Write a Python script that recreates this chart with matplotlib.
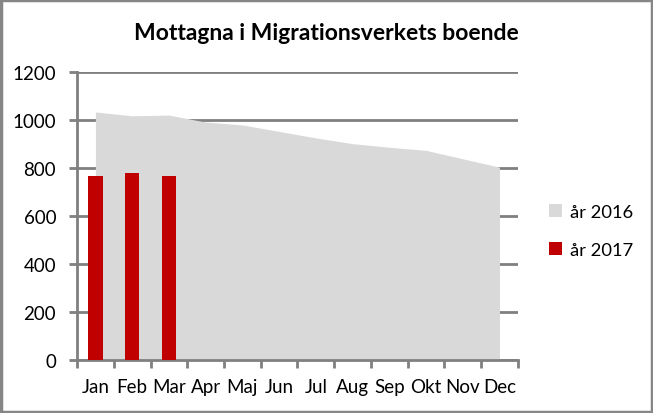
import matplotlib.pyplot as plt
from matplotlib.patches import Rectangle

plt.rcParams['font.family'] = ['Lato', 'DejaVu Sans']

months = ['Jan', 'Feb', 'Mar', 'Apr', 'Maj', 'Jun', 'Jul', 'Aug', 'Sep', 'Okt', 'Nov', 'Dec']
ar_2016 = [1033, 1017, 1020, 991, 979, 952, 925, 901, 886, 873, 838, 803]
ar_2017 = [768, 778, 768]

grid_c = '#808080'
fig = plt.figure(figsize=(6.53, 4.14), dpi=100)
ax = fig.add_axes([0.118, 0.128, 0.675, 0.696])

x = list(range(len(months)))
ax.fill_between(x, ar_2016, 0, color='#d9d9d9', lw=0, label='år 2016', zorder=2)
ax.bar(range(len(ar_2017)), ar_2017, width=0.39, color='#c00000', label='år 2017', zorder=3)

ax.set_xlim(-0.5, 11.5)
ax.set_ylim(0, 1200)
ax.set_yticks(range(0, 1201, 200))
ax.set_xticks(x)
ax.set_xticklabels(months)
ax.set_xticks([i - 0.5 for i in range(13)], minor=True)
ax.tick_params(axis='x', which='major', length=0, pad=13, labelsize=13.5)
ax.tick_params(axis='x', which='minor', length=6, width=2, color=grid_c, direction='out')
ax.tick_params(axis='y', length=6, width=2, color=grid_c, labelsize=13.5, pad=9)
ax.yaxis.grid(True, color=grid_c, lw=2, zorder=1)
ax.set_axisbelow(True)
for s in ['top', 'right']:
    ax.spines[s].set_visible(False)
for s in ['left', 'bottom']:
    ax.spines[s].set_color(grid_c)
    ax.spines[s].set_linewidth(2)

fig.text(0.5, 0.918, 'Mottagna i Migrationsverkets boende', ha='center', va='center',
         fontsize=16.5, fontweight='bold')

fig.legend(loc='center left', bbox_to_anchor=(0.815, 0.44), frameon=False, fontsize=13.2,
           handlelength=0.7, handleheight=0.7, handletextpad=0.45, labelspacing=1.2)

fig.patches.append(Rectangle((0.002, 0.003), 0.996, 0.994, transform=fig.transFigure,
                             fill=False, edgecolor='#868686', lw=2.5))

fig.savefig('out.png', dpi=100)
